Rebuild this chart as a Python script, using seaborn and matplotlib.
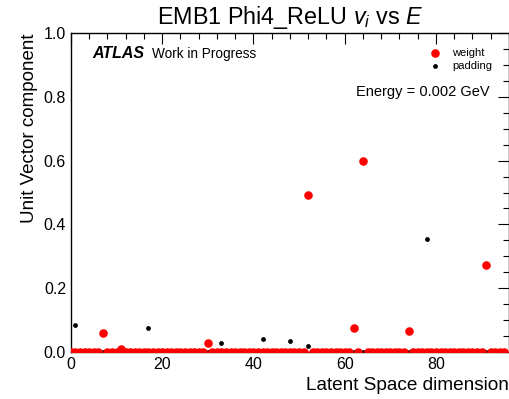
import numpy as np
import pandas as pd
import matplotlib
matplotlib.use("Agg")
import matplotlib.pyplot as plt
import seaborn as sns
from matplotlib.ticker import MultipleLocator

sns.set_theme(style="white")
plt.rcParams['font.family'] = ['Liberation Sans', 'DejaVu Sans']
plt.rcParams['mathtext.fontset'] = 'custom'
plt.rcParams['mathtext.it'] = 'Liberation Sans:italic'
plt.rcParams['mathtext.rm'] = 'Liberation Sans'
plt.rcParams['text.color'] = 'black'
plt.rcParams['axes.labelcolor'] = 'black'
plt.rcParams['xtick.color'] = 'black'
plt.rcParams['ytick.color'] = 'black'

dims = list(range(96))
weight = [
    0.0, 0.0, 0.0, 0.0, 0.0, 0.0, 0.0, 0.060, 0.0, 0.0, 0.0, 0.008, 0.0, 0.0, 0.0, 0.0,
    0.0, 0.0, 0.0, 0.0, 0.0, 0.0, 0.0, 0.0, 0.0, 0.0, 0.0, 0.0, 0.0, 0.0, 0.028, 0.0,
    0.0, 0.0, 0.0, 0.0, 0.0, 0.0, 0.0, 0.0, 0.0, 0.0, 0.0, 0.0, 0.0, 0.0, 0.0, 0.0,
    0.0, 0.0, 0.0, 0.0, 0.492, 0.0, 0.0, 0.0, 0.0, 0.0, 0.0, 0.0, 0.0, 0.0, 0.075, 0.0,
    0.600, 0.0, 0.0, 0.0, 0.0, 0.0, 0.0, 0.0, 0.0, 0.0, 0.066, 0.0, 0.0, 0.0, 0.0, 0.0,
    0.0, 0.0, 0.0, 0.0, 0.0, 0.0, 0.0, 0.0, 0.0, 0.0, 0.0, 0.273, 0.0, 0.0, 0.0, 0.0,
]
padding = [
    0.0, 0.085, 0.0, 0.0, 0.0, 0.0, 0.0, 0.0, 0.0, 0.0, 0.0, 0.0, 0.0, 0.0, 0.0, 0.0,
    0.0, 0.075, 0.0, 0.0, 0.0, 0.0, 0.0, 0.0, 0.0, 0.0, 0.0, 0.0, 0.0, 0.0, 0.0, 0.0,
    0.0, 0.028, 0.0, 0.0, 0.0, 0.0, 0.0, 0.0, 0.0, 0.0, 0.041, 0.0, 0.0, 0.0, 0.0, 0.0,
    0.034, 0.0, 0.0, 0.0, 0.019, 0.0, 0.0, 0.0, 0.0, 0.0, 0.0, 0.0, 0.0, 0.0, 0.0, 0.0,
    0.0, 0.0, 0.0, 0.0, 0.0, 0.0, 0.0, 0.0, 0.0, 0.0, 0.0, 0.0, 0.0, 0.0, 0.354, 0.0,
    0.0, 0.0, 0.0, 0.0, 0.0, 0.0, 0.0, 0.0, 0.0, 0.0, 0.0, 0.0, 0.0, 0.0, 0.0, 0.0,
]

df = pd.DataFrame({"dim": dims, "weight": weight, "padding": padding})

fig = plt.figure(figsize=(5.10, 3.99), dpi=100)
ax = fig.add_axes([0.139, 0.118, 0.859, 0.799])

sns.scatterplot(data=df, x="dim", y="padding", ax=ax, color="black", s=12,
                linewidth=0, label="padding", zorder=2)
sns.scatterplot(data=df, x="dim", y="weight", ax=ax, color="#ff0000", s=38,
                linewidth=0, label="weight", zorder=3)

ax.set_xlim(0, 96)
ax.set_ylim(0, 1.0)
ax.xaxis.set_major_locator(MultipleLocator(20))
ax.xaxis.set_minor_locator(MultipleLocator(4))
ax.yaxis.set_major_locator(MultipleLocator(0.2))
ax.yaxis.set_minor_locator(MultipleLocator(0.05))
ax.tick_params(which="both", direction="in", top=True, right=True, labelsize=11.5,
               colors="black")
ax.tick_params(which="major", length=8, width=0.8)
ax.tick_params(which="minor", length=4, width=0.8)
ax.yaxis.set_major_formatter(matplotlib.ticker.FormatStrFormatter('%.1f'))
for sp in ax.spines.values():
    sp.set_color("black")
    sp.set_linewidth(1.0)

ax.set_xlabel("Latent Space dimension", fontsize=13.7, loc="right", color="black")
ax.set_ylabel("Unit Vector component", fontsize=13.5, loc="top", color="black")
ax.set_title(r"EMB1 Phi4_ReLU $v_i$ vs $E$", fontsize=16.8, pad=6.5, color="black")

handles, labels = ax.get_legend_handles_labels()
order = [labels.index("weight"), labels.index("padding")]
ax.legend([handles[i] for i in order], [labels[i] for i in order],
          loc="upper right", bbox_to_anchor=(0.985, 0.985), frameon=False,
          fontsize=8, handletextpad=0.6, labelspacing=0.3)

ax.text(0.05, 0.935, "ATLAS", transform=ax.transAxes, fontsize=11.5,
        fontweight="bold", fontstyle="italic", va="center", color="black")
ax.text(0.185, 0.935, "Work in Progress", transform=ax.transAxes, fontsize=9.8,
        va="center", color="black")
ax.text(0.955, 0.815, "Energy = 0.002 GeV", transform=ax.transAxes, fontsize=10.5,
        ha="right", va="center", color="black")

fig.savefig("out.png", dpi=100)
